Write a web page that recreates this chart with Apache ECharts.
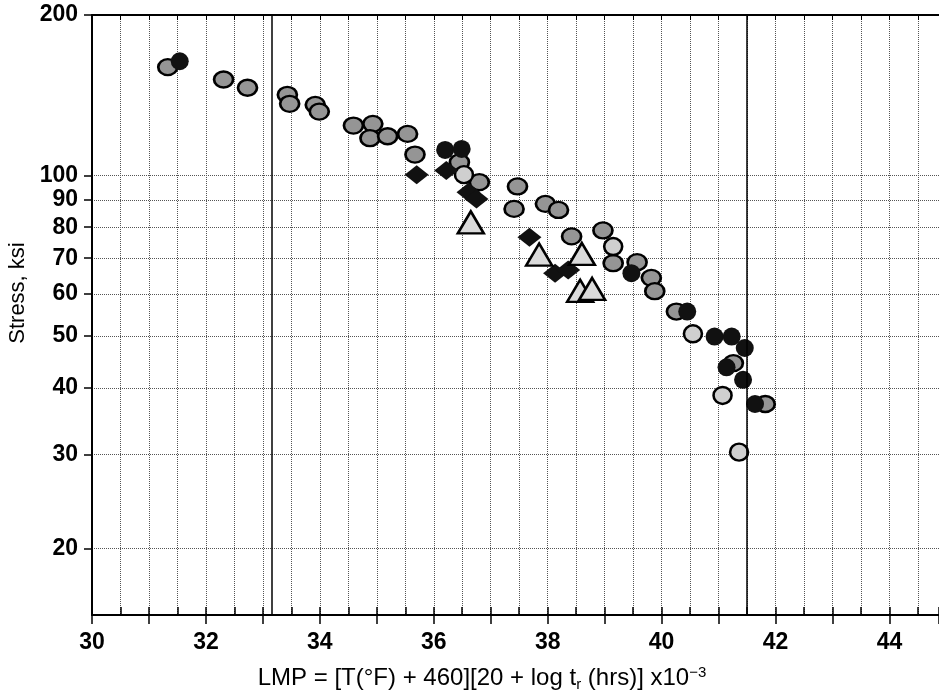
<!DOCTYPE html>
<html>
<head>
<meta charset="utf-8">
<script src="https://cdn.jsdelivr.net/npm/echarts@6/dist/echarts.min.js"></script>
<style>
html, body { margin: 0; padding: 0; background: #fff; }
#chart { width: 939px; height: 691px; }
</style>
</head>
<body>
<div id="chart"></div>
<script>
// points: [LMP, stress ksi]
var grayPts = [
    [31.33, 159.7], [32.31, 151.4], [32.73, 146.1], [33.43, 141.7], [33.47, 136.3],
    [33.92, 135.7], [33.99, 131.8], [34.59, 124.1], [34.93, 125.0], [34.88, 117.5],
    [35.19, 118.5], [35.54, 119.7], [35.67, 109.5], [36.45, 105.9], [36.80, 97.2],
    [37.47, 95.4], [37.41, 86.6], [37.96, 88.5], [38.19, 86.2], [38.42, 76.9],
    [38.97, 78.9], [39.15, 68.5], [39.57, 68.8], [39.82, 64.3], [39.88, 60.7],
    [40.26, 55.6], [41.26, 44.5], [41.82, 37.3]
];
var lightPts = [[36.53, 100.4], [39.15, 73.6], [40.55, 50.5], [41.07, 38.7], [41.36, 30.3]];
var blackPts = [
    [31.54, 163.8], [36.20, 111.7], [36.49, 112.2], [39.47, 65.6], [40.45, 55.6],
    [40.93, 49.9], [41.23, 49.9], [41.46, 47.5], [41.14, 43.7], [41.43, 41.4], [41.64, 37.3]
];
var diamondPts = [[35.70, 100.4], [36.22, 102.2], [36.61, 93.0], [36.75, 90.4], [37.68, 76.6], [38.13, 65.6], [38.36, 66.5]];
var trianglePts = [[36.65, 81.7], [37.85, 71.1], [38.60, 71.3], [38.57, 60.8], [38.78, 61.3]];

var yTicks = [20, 30, 40, 50, 60, 70, 80, 90, 100, 200];
var refLines = [33.15, 41.5];

var FONT = 'Liberation Sans, Arial, Helvetica, sans-serif';
var xMin = 30, xMax = 44.87;

var chart = echarts.init(document.getElementById('chart'));

var option = {
    animation: false,
    backgroundColor: '#fff',
    grid: { left: 92, right: 0, top: 15, bottom: 76, outerBoundsMode: 'none', containLabel: false },
    xAxis: [
        {
            type: 'value', min: xMin, max: xMax, interval: 0.5, position: 'bottom',
            axisLine: { lineStyle: { color: '#000', width: 2 } },
            axisTick: { inside: true, length: 8, lineStyle: { color: '#000', width: 1.5 } },
            axisLabel: {
                color: '#000', fontSize: 23, fontWeight: 'bold', fontFamily: FONT, margin: 16,
                formatter: function (v) { return v % 2 === 0 ? String(v) : ''; }
            },
            splitLine: { show: true, lineStyle: { color: '#555', type: 'dotted', width: 1 } },
            name: 'LMP = [T(°F) + 460][20 + log t{sub|r} (hrs)] x10{sup|−3}',
            nameLocation: 'middle',
            nameGap: 50,
            nameTextStyle: {
                color: '#000', fontSize: 24, fontFamily: FONT, padding: [0, 67, 0, 0],
                rich: {
                    sub: { fontSize: 15, fontFamily: FONT, color: '#000', padding: [12, 0, 0, 0] },
                    sup: { fontSize: 15, fontFamily: FONT, color: '#000', padding: [0, 0, 12, 0] }
                }
            }
        },
        {
            // whole-number ticks pointing out
            type: 'value', min: xMin, max: xMax, interval: 1, position: 'bottom',
            axisLine: { show: false },
            axisTick: { inside: false, length: 9, lineStyle: { color: '#000', width: 1.5 } },
            axisLabel: { show: false },
            splitLine: { show: false }
        },
        {
            type: 'value', min: xMin, max: xMax, interval: 0.5, position: 'top',
            axisLine: { lineStyle: { color: '#000', width: 2 } },
            axisTick: { inside: true, length: 5, lineStyle: { color: '#000', width: 1 } },
            axisLabel: { show: false },
            splitLine: { show: false }
        }
    ],
    yAxis: {
        type: 'log', logBase: 10, min: 15, max: 200,
        axisLine: { show: true, lineStyle: { color: '#000', width: 2 } },
        axisTick: { show: true, customValues: yTicks, length: 8, lineStyle: { color: '#000', width: 1.5 } },
        axisLabel: { customValues: yTicks, color: '#000', fontSize: 23, fontWeight: 'bold', fontFamily: FONT, margin: 14 },
        splitLine: { show: true, lineStyle: { color: '#555', type: 'dotted', width: 1 } },
        minorTick: { show: false },
        name: 'Stress, ksi',
        nameLocation: 'middle',
        nameGap: 54,
        nameTextStyle: { color: '#000', fontSize: 22, fontFamily: FONT, padding: [0, 0, 0, 44] }
    },
    series: [
        {
            name: 'gray', type: 'scatter', data: grayPts, symbol: 'circle', symbolSize: [19, 16],
            itemStyle: { color: '#959595', borderColor: '#000', borderWidth: 2.5, opacity: 1 },
            markLine: {
                silent: true, symbol: 'none', label: { show: false },
                lineStyle: { color: '#000', width: 1.5, type: 'solid' },
                data: refLines.map(function (v) { return { xAxis: v }; })
            }
        },
        {
            name: 'light', type: 'scatter', data: lightPts, symbol: 'circle', symbolSize: [18, 17],
            itemStyle: { color: '#cfcfcf', borderColor: '#000', borderWidth: 2.5, opacity: 1 }
        },
        {
            name: 'black', type: 'scatter', data: blackPts, symbol: 'circle', symbolSize: [18, 18],
            itemStyle: { color: '#111', opacity: 1 }
        },
        {
            name: 'diamond', type: 'scatter', data: diamondPts, symbol: 'diamond', symbolSize: [24, 19],
            itemStyle: { color: '#111', opacity: 1 }
        },
        {
            name: 'triangle', type: 'scatter', data: trianglePts, symbol: 'triangle', symbolSize: [26, 22],
            itemStyle: { color: '#dadada', borderColor: '#000', borderWidth: 2.5, opacity: 1 }
        }
    ]
};

chart.setOption(option);
</script>
</body>
</html>
